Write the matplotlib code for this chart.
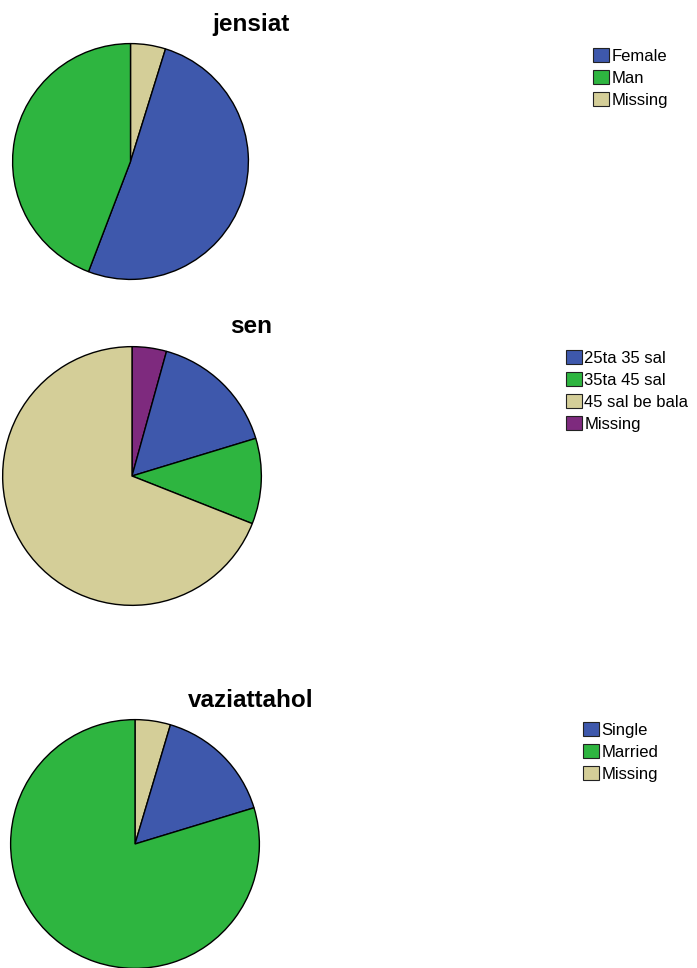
"""Three SPSS-style pie charts: jensiat, sen, vaziattahol (percent of respondents)."""
import matplotlib
matplotlib.use("Agg")
import matplotlib.pyplot as plt
from matplotlib.patches import Patch

W, H, DPI = 697, 968, 100
BLUE, GREEN, TAN, PURPLE = "#3E58AC", "#2EB540", "#D4CE98", "#7E2A7E"

# data (percent)
jensiat_labels = ["Female", "Man", "Missing"]
jensiat_values = [51.0, 44.2, 4.8]
jensiat_colors = [BLUE, GREEN, TAN]

sen_labels = ["25ta 35 sal", "35ta 45 sal", "45 sal be bala", "Missing"]
sen_values = [16.0, 10.7, 69.0, 4.3]
sen_colors = [BLUE, GREEN, TAN, PURPLE]

vaz_labels = ["Single", "Married", "Missing"]
vaz_values = [15.7, 79.7, 4.6]
vaz_colors = [BLUE, GREEN, TAN]

# layout in pixels: pie centre, radius, title baseline, legend top-left
PANELS = [
    dict(title="jensiat", labels=jensiat_labels, values=jensiat_values, colors=jensiat_colors,
         cx=130.5, cy=161.5, r=118.5, ty=31, lx=593, ly=48),
    dict(title="sen", labels=sen_labels, values=sen_values, colors=sen_colors,
         cx=132, cy=476, r=130, ty=333, lx=566, ly=350),
    dict(title="vaziattahol", labels=vaz_labels, values=vaz_values, colors=vaz_colors,
         cx=135, cy=844, r=125, ty=707, lx=583, ly=722),
]

plt.rcParams["font.family"] = ["Liberation Sans", "DejaVu Sans"]
fig = plt.figure(figsize=(W / DPI, H / DPI), dpi=DPI)
fig.patch.set_facecolor("white")

for p in PANELS:
    r = p["r"]
    ax = fig.add_axes([(p["cx"] - r) / W, 1 - (p["cy"] + r) / H, 2 * r / W, 2 * r / H])
    # SPSS order: Missing first clockwise from 12 o'clock, then the categories
    vals = [p["values"][-1]] + p["values"][:-1]
    cols = [p["colors"][-1]] + p["colors"][:-1]
    ax.pie(vals, colors=cols, startangle=90, counterclock=False, radius=1,
           wedgeprops=dict(edgecolor="black", linewidth=1.0))
    ax.set_xlim(-1.005, 1.005); ax.set_ylim(-1.005, 1.005); ax.set_aspect("equal")
    ax.axis("off")
    fig.text(251 / W, 1 - p["ty"] / H, p["title"], ha="center", va="baseline",
             fontsize=17.5, fontweight="bold")
    handles = [Patch(facecolor=c, edgecolor="#222222", linewidth=0.8) for c in p["colors"]]
    fig.legend(handles, p["labels"], loc="upper left",
               bbox_to_anchor=(p["lx"] / W, 1 - p["ly"] / H), frameon=False,
               fontsize=12, borderpad=0, borderaxespad=0, handlelength=0.95,
               handleheight=0.95, handletextpad=0.15, labelspacing=0.36)

fig.savefig("out.png", dpi=DPI, facecolor="white")
